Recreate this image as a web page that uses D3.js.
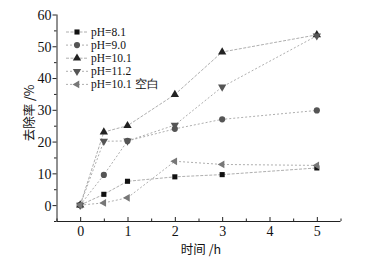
<!DOCTYPE html>
<html><head><meta charset="utf-8">
<script src="https://cdn.jsdelivr.net/npm/d3@7"></script>
<style>body{margin:0;background:#fff}svg{display:block}</style>
</head><body>
<svg id="c" width="382" height="257"></svg>
<script>
const times = [0, 0.5, 1, 2, 3, 5];
const seriesNames = ["pH=8.1", "pH=9.0", "pH=10.1", "pH=11.2", "pH=10.1 空白"];
const ph81 = [0, 3.4, 7.5, 8.9, 9.6, 11.7];
const ph90 = [0, 9.5, 20.2, 24.0, 27.0, 29.8];
const ph101 = [0, 23.0, 25.0, 34.8, 48.2, 53.6];
const ph112 = [0, 20.1, 20.2, 25.2, 37.2, 53.3];
const blank = [0, 0.7, 2.3, 13.8, 12.8, 12.5];
const xTicks = [0, 1, 2, 3, 4, 5];
const yTicks = [0, 10, 20, 30, 40, 50, 60];
const allSeries = [ph81, ph90, ph101, ph112, blank];
const symbols = [d3.symbolSquare, d3.symbolCircle, d3.symbolTriangle, "tdown", "tleft"];
const dashes = ["3,1.5", "2,2", "3,1.5", "2,2", "2,2"];

const SERIF = '"Liberation Serif","DejaVu Serif",serif';
const CJK = '"Noto Sans CJK SC",sans-serif';
const svg = d3.select("#c");
const x = d3.scaleLinear().domain([-0.5, 5.5]).range([56.5, 340.5]);
const y = d3.scaleLinear().domain([-5, 60]).range([221, 14.5]);

// axes
const xAxis = svg.append("g").attr("transform", "translate(0,221)")
  .call(d3.axisBottom(x).tickValues(xTicks).tickSize(4).tickFormat(d3.format("d")));
xAxis.selectAll(".tick line").attr("y2", -4);
svg.append("g").attr("transform", "translate(0,221)")
  .call(d3.axisBottom(x).tickValues([-0.5,0.5,1.5,2.5,3.5,4.5,5.5]).tickSize(-2.5).tickFormat(""))
  .select(".domain").remove();
const yAxis = svg.append("g").attr("transform", "translate(56.5,0)")
  .call(d3.axisLeft(y).tickValues(yTicks).tickSize(4).tickFormat(d3.format("d")));
svg.append("g").attr("transform", "translate(56.5,0)")
  .call(d3.axisLeft(y).tickValues([-5,5,15,25,35,45,55]).tickSize(2.5).tickFormat(""))
  .select(".domain").remove();
xAxis.select(".domain").attr("d", "M56.5,0.5H340.5");
yAxis.select(".domain").attr("d", "M0.5,14.5V221");
svg.selectAll(".tick text").style("font-family", SERIF).style("font-size", "14px").attr("fill", "#111");
xAxis.selectAll(".tick text").attr("dy", "0.85em").attr("y", 3);
yAxis.selectAll(".tick text").attr("x", -5).attr("dy", "0.35em");
svg.selectAll(".domain, .tick line").attr("stroke", "#222");

function sym(type, size) {
  if (type === "tdown" || type === "tleft") return d3.symbol(d3.symbolTriangle, size)();
  return d3.symbol(type, size)();
}
function rot(type) { return type === "tdown" ? 180 : type === "tleft" ? -90 : 0; }
const colors = ["#111", "#555", "#222", "#555", "#777"];
const sizes = [26, 30, 30, 30, 26];

const line = d3.line().x((d, i) => x(times[i])).y(d => y(d));
allSeries.forEach((s, k) => {
  svg.append("path").datum(s).attr("d", line).attr("fill", "none")
    .attr("stroke", "#999").attr("stroke-width", 0.8).attr("stroke-dasharray", dashes[k]);
});
allSeries.forEach((s, k) => {
  svg.append("g").selectAll("path").data(s).join("path")
    .attr("d", sym(symbols[k], sizes[k]))
    .attr("transform", (d, i) => `translate(${x(times[i])},${y(d)}) rotate(${rot(symbols[k])})`)
    .attr("fill", colors[k]);
});

// legend
const lg = svg.append("g");
seriesNames.forEach((name, k) => {
  const yy = 32 + k * 13.1;
  lg.append("line").attr("x1", 66).attr("x2", 88).attr("y1", yy).attr("y2", yy)
    .attr("stroke", "#999").attr("stroke-width", 0.8).attr("stroke-dasharray", dashes[k]);
  lg.append("path").attr("d", sym(symbols[k], sizes[k]))
    .attr("transform", `translate(77,${yy}) rotate(${rot(symbols[k])})`).attr("fill", colors[k]);
  lg.append("text").attr("x", 91).attr("y", yy).attr("dy", "0.35em")
    .style("font-family", SERIF).style("font-size", "11.5px").attr("fill", "#111").text(name);
});

// axis titles
svg.append("text").attr("transform", "translate(30,113) rotate(-90)").attr("text-anchor", "middle")
  .attr("dy", "0.35em").style("font-family", CJK).style("font-size", "12.5px")
  .attr("fill", "#111").text("去除率 /%");
svg.append("text").attr("x", 201).attr("y", 254).attr("text-anchor", "middle")
  .style("font-family", CJK).style("font-size", "12.5px")
  .attr("fill", "#111").text("时间 /h");
</script>
</body></html>
